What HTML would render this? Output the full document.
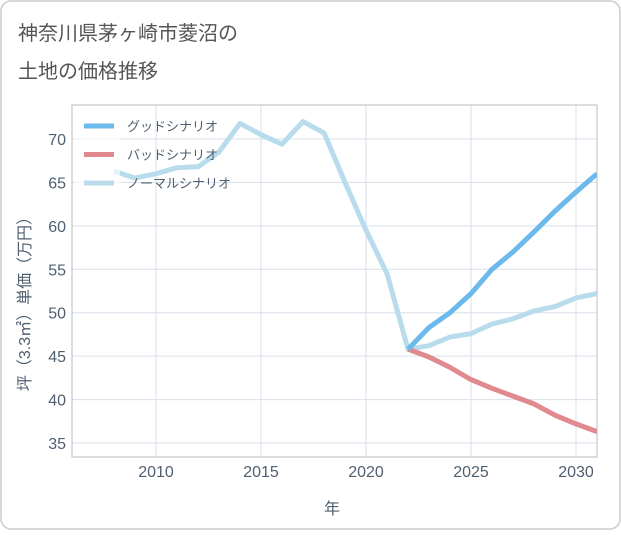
<!DOCTYPE html>
<html><head><meta charset="utf-8"><style>
body{margin:0;background:#fff;font-family:"Liberation Sans","Noto Sans CJK JP",sans-serif}
#wrap{position:relative;width:621px;height:530px}
</style></head><body>
<div id="wrap">
<svg id="c" width="621" height="530"></svg>
</div>
<script>
const years=[2008,2009,2010,2011,2012,2013,2014,2015,2016,2017,2018,2019,2020,2021,2022,2023,2024,2025,2026,2027,2028,2029,2030,2031];
const normal=[66.3,65.5,66,66.7,66.8,68.5,71.8,70.5,69.4,72,70.7,65,59.5,54.5,45.8,46.2,47.2,47.6,48.7,49.3,50.2,50.7,51.7,52.2];
const futYears=[2022,2023,2024,2025,2026,2027,2028,2029,2030,2031];
const good=[45.8,48.3,50,52.2,55,57,59.3,61.7,63.9,66];
const bad=[45.8,44.9,43.7,42.3,41.3,40.4,39.5,38.2,37.2,36.3];
const xTicks=[2010,2015,2020,2025,2030];
const yTicks=[35,40,45,50,55,60,65,70];
const legendLabels=["グッドシナリオ","バッドシナリオ","ノーマルシナリオ"];
const NS="http://www.w3.org/2000/svg";
const svg=document.getElementById('c');
const L=72,R=597,T=105,B=457;
const TXT='#4f5f70';
const X=v=>L+(v-2006)*(R-L)/25;
const Y=v=>443-(v-35)*304/35;
function mk(t,a,p){const e=document.createElementNS(NS,t);for(const k in a)e.setAttribute(k,a[k]);(p||svg).appendChild(e);return e;}
let e=mk('rect',{x:1,y:1,width:619,height:528,rx:10,fill:'#fff',stroke:'#ccc','stroke-width':1.5});


e=mk('text',{x:18,y:40,'font-size':20,fill:'#555'});e.textContent='神奈川県茅ヶ崎市菱沼の';


e=mk('text',{x:18,y:78,'font-size':20,fill:'#555'});e.textContent='土地の価格推移';


xTicks.forEach(v=>{
 e=mk('line',{x1:X(v),x2:X(v),y1:T,y2:B,stroke:'#d8e0ea'});
 
 
 e=mk('text',{x:X(v),y:477,'font-size':16,fill:TXT,'text-anchor':'middle'});e.textContent=v;
 
 
});
yTicks.forEach(v=>{
 e=mk('line',{x1:L,x2:R,y1:Y(v),y2:Y(v),stroke:'#d8e0ea'});
 
 
 e=mk('text',{x:66,y:Y(v)+6,'font-size':16,fill:TXT,'text-anchor':'end'});e.textContent=v;
 
 
});
e=mk('rect',{x:L,y:T,width:R-L,height:B-T,fill:'none',stroke:'#bbb'});


e=mk('text',{x:332,y:514,'font-size':16,fill:TXT,'text-anchor':'middle'});e.textContent='年';


e=mk('text',{x:0,y:0,'font-size':16,fill:TXT,'text-anchor':'middle',transform:'translate(30,300) rotate(-90)'});e.textContent='坪（3.3㎡）単価（万円）';


const clip=mk('clipPath',{id:'cp'});mk('rect',{x:L,y:T,width:R-L,height:B-T},clip);
function line(xs,ys,col,name){
 const d=xs.map((x,i)=>(i?'L':'M')+X(x).toFixed(1)+','+Y(ys[i]).toFixed(1)).join('');
 const p=mk('path',{d:d,fill:'none',stroke:col,'stroke-width':5,'stroke-linejoin':'round','clip-path':'url(#cp)'});
 
 
}
line(years,normal,'#b9dced','normal-scenario-line');
line(futYears,bad,'#e08a8f','bad-scenario-line');
line(futYears,good,'#6cb9ec','good-scenario-line');
e=mk('rect',{x:75,y:110,width:45,height:85,fill:'#fff','fill-opacity':0.6});


const lc=['#6cb9ec','#e08a8f','#b9dced'];
legendLabels.forEach((t,i)=>{
 const y=126+i*28.5;
 const g=mk('g',{});
 
 
 mk('line',{x1:84,x2:114,y1:y,y2:y,stroke:lc[i],'stroke-width':5},g);
 const tx=mk('text',{x:127,y:y+5,'font-size':13,fill:TXT},g);tx.textContent=t;
});
</script>
</body></html>
